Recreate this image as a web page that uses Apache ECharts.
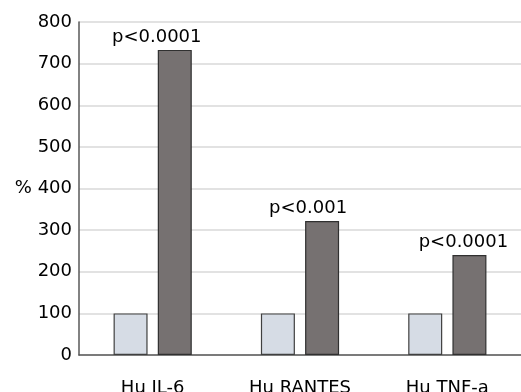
<!DOCTYPE html>
<html><head><meta charset="utf-8">
<script src="https://cdn.jsdelivr.net/npm/echarts@6/dist/echarts.min.js"></script>
<style>html,body{margin:0;padding:0;background:#fff}#c{width:521px;height:392px}</style>
</head><body><div id="c"></div>
<script>
var categories = ['Hu IL-6', 'Hu RANTES', 'Hu TNF-a'];
var controlValues = [100, 100, 100];
var treatedValues = [733, 322, 240];
var pLabels = ['p<0.0001', 'p<0.001', 'p<0.0001'];
var yTicks = [0, 100, 200, 300, 400, 500, 600, 700, 800];
var labelShift = [-18, -14, -6];

var font = 'DejaVu Sans';
var chart = echarts.init(document.getElementById('c'));
chart.setOption({
  animation: false,
  grid: {left: 79, right: 0, top: 22, bottom: 37, containLabel: false, outerBoundsMode: 'none'},
  xAxis: {
    type: 'category', data: categories,
    axisLine: {lineStyle: {color: '#595959', width: 1.5}},
    axisTick: {show: false},
    axisLabel: {color: '#000', fontFamily: font, fontSize: 18, margin: 24}
  },
  yAxis: {
    type: 'value', min: 0, max: 800, interval: 100,
    axisLine: {show: true, lineStyle: {color: '#595959', width: 1.5}},
    axisTick: {show: false},
    splitLine: {lineStyle: {color: '#d9d9d9', width: 1.5}},
    axisLabel: {color: '#000', fontFamily: font, fontSize: 18, margin: 7,
      formatter: function (v) { return v === 400 ? '% ' + v : String(v); }}
  },
  series: [
    {type: 'bar', data: controlValues, barWidth: 34, barGap: '30%',
     itemStyle: {color: '#d6dce5', borderColor: '#404040', borderWidth: 1.2}},
    {type: 'bar', data: treatedValues.map(function (v, i) {
        return {value: v, label: {offset: [labelShift[i], 0]}};
     }), barWidth: 34,
     itemStyle: {color: '#767171', borderColor: '#303030', borderWidth: 1.2},
     label: {show: true, position: 'top', distance: 4, color: '#000', fontFamily: font, fontSize: 18,
       formatter: function (p) { return pLabels[p.dataIndex]; }}}
  ]
});
</script></body></html>
